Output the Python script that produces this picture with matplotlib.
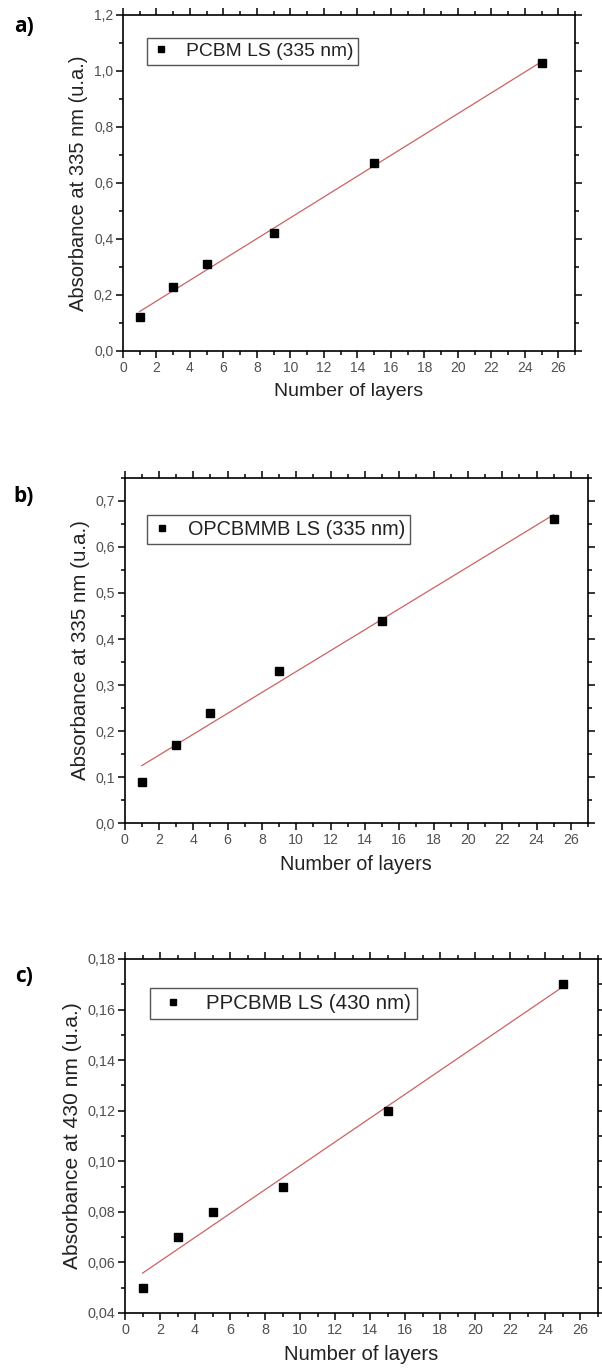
import numpy as np
import matplotlib
matplotlib.use("Agg")
import matplotlib.pyplot as plt
from matplotlib.ticker import MultipleLocator, FuncFormatter

plt.rcParams['font.family'] = ['Liberation Sans', 'DejaVu Sans']

# ---- data ----
layers = [1, 3, 5, 9, 15, 25]
abs_a = [0.12, 0.23, 0.31, 0.42, 0.67, 1.03]
abs_b = [0.09, 0.17, 0.24, 0.33, 0.44, 0.66]
abs_c = [0.05, 0.07, 0.08, 0.09, 0.12, 0.17]

panel_letters = ["a)", "b)", "c)"]
legend_labels = ["PCBM LS (335 nm)", "OPCBMMB LS (335 nm)", "PPCBMB LS (430 nm)"]
y_labels = ["Absorbance at 335 nm (u.a.)", "Absorbance at 335 nm (u.a.)",
            "Absorbance at 430 nm (u.a.)"]
x_label = "Number of layers"

W, H = 602, 1370
fig = plt.figure(figsize=(W / 100, H / 100), dpi=100)

# pixel boxes: left, top, right, bottom
boxes = [(123, 15, 575, 351), (124.6, 478, 588, 823), (125, 959, 598, 1313)]
ylims = [(0, 1.2), (0, 0.75), (0.04, 0.18)]
ymaj = [0.2, 0.1, 0.02]
ymin = [0.1, 0.05, 0.01]
ydec = [1, 1, 2]
leg_pos = [(0.052, 0.932), (0.048, 0.893), (0.053, 0.919)]
leg_fs = [13.9, 14.3, 14.8]
leg_hl = [1.0, 1.0, 1.6]
leg_pad = [0.25, 0.25, 0.3]
scale = [1.0, 1.02, 1.04]
letter_pos = [(24, 27), (24, 497), (24, 976)]
series = [abs_a, abs_b, abs_c]

for i in range(3):
    l, t, r, b = boxes[i]
    sc = scale[i]
    ax = fig.add_axes([l / W, 1 - b / H, (r - l) / W, (b - t) / H])
    x = np.array(layers, dtype=float)
    y = np.array(series[i])
    k, c0 = np.polyfit(x, y, 1)
    xf = np.array([x.min(), x.max()])
    ax.plot(xf, k * xf + c0, color='#cc6262', lw=0.9, zorder=2)
    ax.plot(x, y, 's', color='black', ms=5.2, ls='none', zorder=3,
            label=legend_labels[i])
    ax.set_xlim(0, 27)
    ax.set_ylim(*ylims[i])
    ax.xaxis.set_major_locator(MultipleLocator(2))
    ax.xaxis.set_minor_locator(MultipleLocator(1))
    ax.yaxis.set_major_locator(MultipleLocator(ymaj[i]))
    ax.yaxis.set_minor_locator(MultipleLocator(ymin[i]))
    d = ydec[i]
    ax.yaxis.set_major_formatter(FuncFormatter(lambda v, p, d=d: f"{v:.{d}f}".replace('.', ',')))
    ax.xaxis.set_major_formatter(FuncFormatter(lambda v, p: f"{v:.0f}"))
    ax.tick_params(which='both', direction='out', top=True, right=True,
                   labeltop=False, labelright=False, width=1.1,
                   labelsize=10 * sc, labelcolor='#505050', pad=2)
    ax.tick_params(which='major', length=5)
    ax.tick_params(which='minor', length=3)
    for s in ax.spines.values():
        s.set_linewidth(1.2)
    ax.set_xlabel(x_label, fontsize=14 * sc, color='#222222', labelpad=6)
    ax.set_ylabel(y_labels[i], fontsize=14.5 * sc, color='#222222', labelpad=4)
    leg = ax.legend(loc='upper left', bbox_to_anchor=leg_pos[i], fancybox=False,
                    edgecolor='#555555', fontsize=leg_fs[i], handlelength=leg_hl[i],
                    handletextpad=0.8, borderpad=leg_pad[i], borderaxespad=0,
                    framealpha=1, markerscale=0.8)
    leg.get_frame().set_linewidth(1.0)
    for txt in leg.get_texts():
        txt.set_color('#222222')
    lx, ly = letter_pos[i]
    fig.text(lx / W, 1 - ly / H, panel_letters[i], fontsize=15, fontweight='bold',
             family=['Open Sans', 'DejaVu Sans'], ha='center', va='center')

fig.savefig("out.png", dpi=100)
